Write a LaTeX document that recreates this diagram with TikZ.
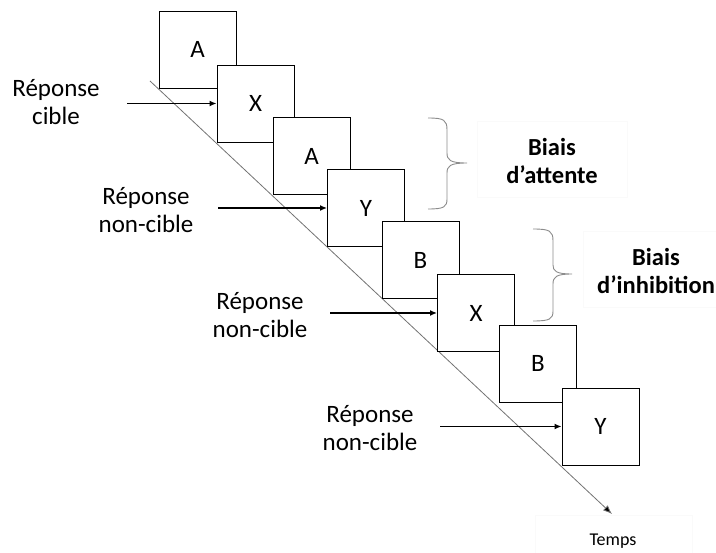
\documentclass[tikz,border=0pt]{standalone}
\usepackage{fontspec}
\setmainfont{Carlito}
\usetikzlibrary{arrows.meta}
\begin{document}
\begin{tikzpicture}[x=1pt,y=-1pt,
 frame/.style={draw=black,line width=0.9pt,fill=white,minimum width=77pt,minimum height=77pt,inner sep=0pt,font=\fontsize{25}{30}\selectfont},
 lbl/.style={align=center,font=\fontsize{25}{28}\selectfont},
 bias/.style={align=center,font=\fontsize{24.5}{28}\selectfont\bfseries},
 faint/.style={draw=black!2,line width=0.6pt},
 resp/.style={-{Latex[length=7pt,width=6pt]},line width=1.5pt},
 timeline/.style={draw=black!55,line width=0.8pt,-{Latex[length=9pt,width=7pt,fill=black]}},
 bracestyle/.style={draw=black!45,line width=0.9pt}]
\path[use as bounding box] (0,0) rectangle (716,553);

% faint text frames
\draw[faint] (477,121) rectangle (627,197);
\draw[faint] (583,231) rectangle (716,307);
\draw[faint] (535,515) rectangle (692,553);

% time line
\coordinate (t0) at (150,81);
\coordinate (t1) at (612,514);
\draw[timeline] (t0) -- (t1);

% stimulus frames
\node[frame] (b1) at (197.5,49.5) {A};
\node[frame] (b2) at (255.5,103.5) {X};
\node[frame] (b3) at (311.5,156) {A};
\node[frame] (b4) at (366,208) {Y};
\node[frame] (b5) at (420.5,260) {B};
\node[frame] (b6) at (476,313) {X};
\node[frame] (b7) at (538,363.5) {B};
\node[frame] (b8) at (600.5,426.5) {Y};

% response labels
\node[lbl] (r1) at (56,102) {Réponse\\cible};
\node[lbl] (r2) at (146,210) {Réponse\\non-cible};
\node[lbl] (r3) at (260,315) {Réponse\\non-cible};
\node[lbl] (r4) at (370,428) {Réponse\\non-cible};

\coordinate (a1) at (127,103.5);
\coordinate (a2) at (218,208);
\coordinate (a3) at (330,313);
\coordinate (a4) at (440,426.5);
\draw[resp] (a1) -- (b2.west);
\draw[resp] (a2) -- (b4.west);
\draw[resp] (a3) -- (b6.west);
\draw[resp] (a4) -- (b8.west);

% braces
\draw[bracestyle] (428,118) .. controls (444,118) and (447,120) .. (447,130) -- (447,153)
  .. controls (447,160) and (450,163) .. (467,163)
  .. controls (450,163) and (447,166) .. (447,173) -- (447,199)
  .. controls (447,207) and (444,209) .. (428,209);
\draw[bracestyle] (533,229) .. controls (550,229) and (553,231) .. (553,241) -- (553,265)
  .. controls (553,271) and (556,274) .. (572,274)
  .. controls (556,274) and (553,277) .. (553,284) -- (553,311)
  .. controls (553,319) and (550,321) .. (533,321);

% bias labels
\node[bias] (bA) at (552,161) {Biais\\d’attente};
\node[bias] (bI) at (656,271) {Biais\\d’inhibition};

% time label
\node[font=\fontsize{18}{21}\selectfont] (tl) at (613,541) {Temps};
\end{tikzpicture}
\end{document}
